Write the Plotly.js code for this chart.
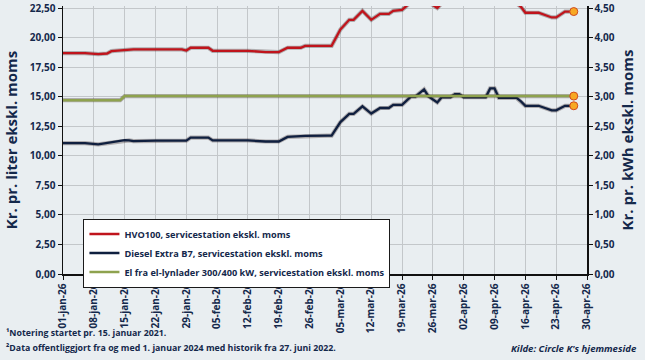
<!DOCTYPE html>
<html>
<head>
<meta charset="utf-8">
<script src="https://cdn.plot.ly/plotly-3.0.1.min.js"></script>
<style>
html,body{margin:0;padding:0;background:#e9eef1;}
#chart{width:645px;height:360px;}
</style>
</head>
<body>
<div id="chart"></div>
<script>
// Shared dates for HVO100 and Diesel series
const fuelDates = ['2026-01-01','2026-01-06','2026-01-09','2026-01-11','2026-01-12','2026-01-13','2026-01-15','2026-01-16','2026-01-17','2026-01-22','2026-01-28','2026-01-29','2026-01-30','2026-02-03','2026-02-04','2026-02-12','2026-02-16','2026-02-19','2026-02-21','2026-02-24','2026-02-25','2026-03-02','2026-03-03','2026-03-05','2026-03-07','2026-03-08','2026-03-10','2026-03-12','2026-03-14','2026-03-16','2026-03-17','2026-03-19','2026-03-21','2026-03-22','2026-03-24','2026-03-25','2026-03-27','2026-03-28','2026-03-30','2026-03-31','2026-04-01','2026-04-02','2026-04-07','2026-04-08','2026-04-09','2026-04-10','2026-04-14','2026-04-15','2026-04-16','2026-04-19','2026-04-22','2026-04-23','2026-04-25','2026-04-27'];

const hvo100 = [18.69,18.69,18.60,18.65,18.85,18.88,18.94,19.00,19.00,19.00,19.00,18.90,19.14,19.14,18.88,18.88,18.77,18.77,19.14,19.14,19.30,19.30,19.30,20.68,21.50,21.50,22.26,21.50,22.00,22.00,22.26,22.34,23.00,23.00,23.60,23.00,22.50,22.90,22.90,23.20,23.20,22.90,22.90,23.60,23.60,22.90,22.90,22.60,22.10,22.10,21.70,21.70,22.20,22.20];

const diesel = [11.07,11.07,10.96,11.08,11.10,11.15,11.32,11.30,11.24,11.28,11.30,11.28,11.54,11.54,11.30,11.30,11.21,11.21,11.60,11.66,11.68,11.70,11.70,12.85,13.54,13.54,14.18,13.57,14.04,14.04,14.31,14.31,15.00,15.00,15.61,15.03,14.51,14.95,14.95,15.22,15.22,14.95,14.95,15.70,15.70,14.90,14.90,14.60,14.23,14.23,13.84,13.84,14.23,14.23];

const elDates = ['2026-01-01','2026-01-14','2026-01-15','2026-04-27'];
const elPrice = [2.94,2.94,3.01,3.01];

const tickDates = ['2026-01-01','2026-01-08','2026-01-15','2026-01-22','2026-01-29','2026-02-05','2026-02-12','2026-02-19','2026-02-26','2026-03-05','2026-03-12','2026-03-19','2026-03-26','2026-04-02','2026-04-09','2026-04-16','2026-04-23','2026-04-30'];
const tickLabels = ['01-jan-26','08-jan-26','15-jan-26','22-jan-26','29-jan-26','05-feb-26','12-feb-26','19-feb-26','26-feb-26','05-mar-26','12-mar-26','19-mar-26','26-mar-26','02-apr-26','09-apr-26','16-apr-26','23-apr-26','30-apr-26'];

const names = ['HVO100, servicestation ekskl. moms','Diesel Extra B7, servicestation ekskl. moms','El fra el-lynlader 300/400 kW, servicestation ekskl. moms'];

const navy = '#14284b';
const last = a => [a[a.length-1]];

const shadow = (x, y, axis) => ({x, y, yaxis: axis, type:'scatter', mode:'lines', showlegend:false, hoverinfo:'skip',
  line:{color:'rgba(40,20,20,0.3)', width:4.2}});

const endMarker = {color:'#f7a823', size:8, line:{color:'#d0491f', width:1}};

const traces = [
  shadow(fuelDates, hvo100, 'y'),
  shadow(fuelDates, diesel, 'y'),
  shadow(elDates, elPrice, 'y2'),
  {x: fuelDates, y: hvo100, name: names[0], type:'scatter', mode:'lines', line:{color:'#c0141c', width:2.3}},
  {x: fuelDates, y: diesel, name: names[1], type:'scatter', mode:'lines', line:{color:'#0f1f3f', width:2.3}},
  {x: elDates, y: elPrice, name: names[2], yaxis:'y2', type:'scatter', mode:'lines', line:{color:'#8ea24e', width:2.5}},
  {x: last(fuelDates), y: last(hvo100), type:'scatter', mode:'markers', showlegend:false, marker:endMarker},
  {x: last(fuelDates), y: last(diesel), type:'scatter', mode:'markers', showlegend:false, marker:endMarker},
  {x: last(elDates), y: last(elPrice), yaxis:'y2', type:'scatter', mode:'markers', showlegend:false, marker:endMarker}
];

const tickFont = {family:'Open Sans, sans-serif', size:10, color:navy, weight:'bold'};
const noteFont = {family:'Open Sans, sans-serif', size:8.8, color:navy, weight:'bold'};

const layout = {
  width:645, height:360,
  margin:{l:63, r:58, t:6, b:86},
  paper_bgcolor:'#e9eef1', plot_bgcolor:'#e9eef1',
  separators:',.',
  showlegend:true,
  legend:{x:0.039, y:0.207, xanchor:'left', yanchor:'top', bgcolor:'#ffffff', bordercolor:'#1a1a1a', borderwidth:1,
    font:{family:'Open Sans, sans-serif', size:9.2, color:navy, weight:'bold'}, tracegroupgap:0, itemwidth:30},
  xaxis:{type:'date', range:['2026-01-01','2026-04-30'], tickvals:tickDates, ticktext:tickLabels, tickangle:-90,
    showgrid:true, gridcolor:'#c3c7ca', gridwidth:1, showline:true, linecolor:'#111', linewidth:1.5,
    ticks:'outside', ticklen:4, tickcolor:'#111', tickfont:tickFont, zeroline:false, fixedrange:true},
  yaxis:{range:[0,22.67], tickvals:[0,2.5,5,7.5,10,12.5,15,17.5,20,22.5], tickformat:'.2f', showgrid:true, gridcolor:'#c3c7ca',
    showline:true, linecolor:'#111', linewidth:1.5, ticks:'outside', ticklen:4, tickcolor:'#111', tickfont:tickFont, zeroline:false,
    ticklabeloverflow:'allow',
    title:{text:'Kr. pr. liter ekskl. moms', font:{family:'Open Sans, sans-serif', size:15, color:navy, weight:'bold'}, standoff:8}},
  yaxis2:{range:[0,4.534], overlaying:'y', side:'right', tickvals:[0,0.5,1,1.5,2,2.5,3,3.5,4,4.5], tickformat:'.2f', showgrid:false,
    showline:true, linecolor:'#111', linewidth:1.5, ticks:'outside', ticklen:4, tickcolor:'#111', tickfont:tickFont, zeroline:false,
    ticklabeloverflow:'allow',
    title:{text:'Kr. pr. kWh ekskl. moms', font:{family:'Open Sans, sans-serif', size:15, color:navy, weight:'bold'}, standoff:8}},
  annotations:[
    {xref:'paper', yref:'paper', x:-0.112, y:-0.22, xanchor:'left', yanchor:'middle', showarrow:false, align:'left',
      text:'¹Notering startet pr. 15. januar 2021.', font:noteFont},
    {xref:'paper', yref:'paper', x:-0.112, y:-0.276, xanchor:'left', yanchor:'middle', showarrow:false, align:'left',
      text:'²Data offentliggjort fra og med 1. januar 2024 med historik fra 27. juni 2022.', font:noteFont},
    {xref:'paper', yref:'paper', x:1.1, y:-0.279, xanchor:'right', yanchor:'middle', showarrow:false,
      text:"<i>Kilde: Circle K's hjemmeside</i>", font:{family:'Open Sans, sans-serif', size:9.5, color:navy, weight:'bold'}}
  ]
};

Plotly.newPlot('chart', traces, layout, {displayModeBar:false, staticPlot:true});
</script>
</body>
</html>
